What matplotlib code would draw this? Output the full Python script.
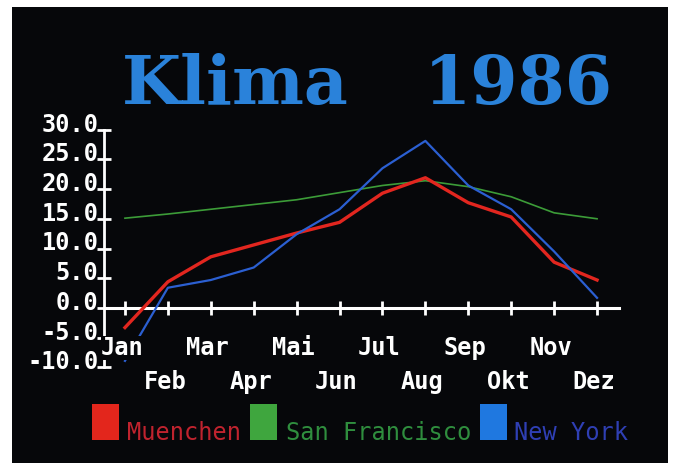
import numpy as np
import matplotlib
matplotlib.use("Agg")
import matplotlib.pyplot as plt
import matplotlib.transforms as mtransforms
from matplotlib.patches import Rectangle

# Monatsmittel der Temperatur 1986 (Grad C)
monate = ["Jan", "Feb", "Mar", "Apr", "Mai", "Jun", "Jul", "Aug", "Sep", "Okt", "Nov", "Dez"]
muenchen = [-3.3, 4.4, 8.6, 10.6, 12.6, 14.4, 19.3, 21.9, 17.7, 15.3, 7.7, 4.7]
san_francisco = [15.1, 15.8, 16.6, 17.4, 18.2, 19.4, 20.6, 21.4, 20.4, 18.7, 16.0, 15.0]
new_york = [-8.9, 3.4, 4.7, 6.8, 12.4, 16.6, 23.5, 28.1, 20.6, 16.6, 9.5, 1.7]
staedte = ["Muenchen", "San Francisco", "New York"]
y_ticks = [-10, -5, 0, 5, 10, 15, 20, 25, 30]

linien_farben = ["#e2261f", "#3c9c38", "#2b5fd2"]
kasten_farben = ["#e3261c", "#3fa63e", "#1f78e0"]
text_farben = ["#c0232e", "#2f8e3e", "#2f3fb4"]
titel_farbe = "#2a82da"
mono = "DejaVu Sans Mono"

W, H = 676, 472
fig = plt.figure(figsize=(W / 100, H / 100), dpi=100, facecolor="white")

# Bildschirm
fig.patches.append(Rectangle((12 / W, 1 - 463 / H), 656 / W, 456 / H,
                             transform=fig.transFigure, facecolor="#06070a",
                             edgecolor="none", zorder=-5))

# Titel
fig.text(122 / W, 1 - 104 / H, "Klima", color=titel_farbe, family="DejaVu Serif",
         weight="bold", fontsize=49, va="baseline", ha="left")
fig.text(613 / W, 1 - 104 / H, "1986", color=titel_farbe, family="DejaVu Serif",
         weight="bold", fontsize=49, va="baseline", ha="right")

ax = fig.add_axes([103.5 / W, 1 - 367.4 / H, 515 / W, 237.8 / H])
ax.set_facecolor("none")
ax.set_xlim(-0.5, 11.5)
ax.set_ylim(-10, 30)

x = np.arange(len(monate))
ax.plot(x, san_francisco, color=linien_farben[1], lw=1.2, zorder=3)
ax.plot(x, muenchen, color=linien_farben[0], lw=2.4, zorder=4)
ax.plot(x, new_york, color=linien_farben[2], lw=1.6, zorder=5)

for s in ["top", "right"]:
    ax.spines[s].set_visible(False)
ax.spines["left"].set_color("white")
ax.spines["left"].set_linewidth(2)
ax.spines["bottom"].set_color("white")
ax.spines["bottom"].set_linewidth(2.2)
ax.spines["bottom"].set_position(("data", 0))

ax.set_xticks(x)
ax.set_xticklabels([])
ax.set_yticks(y_ticks)
ax.set_yticklabels([])
ax.tick_params(axis="both", direction="inout", length=10, width=2, color="white")

# y-Beschriftung, sitzt auf dem Strich
off = mtransforms.ScaledTranslation(-5 / 100, -2 / 100, fig.dpi_scale_trans)
for v in y_ticks:
    ax.text(0, v, f"{v:.1f}", transform=ax.get_yaxis_transform() + off,
            ha="right", va="baseline", color="white", family=mono,
            weight="bold", fontsize=17)

# Monate abwechselnd in zwei Zeilen
moff = mtransforms.ScaledTranslation(-3 / 100, 0, fig.dpi_scale_trans)
for i, m in enumerate(monate):
    yy = 0.052 if i % 2 == 0 else -0.091
    ax.text(i, yy, m, transform=ax.get_xaxis_transform() + moff, ha="center",
            va="baseline", color="white", family=mono, weight="bold",
            fontsize=17, zorder=6,
            bbox=dict(facecolor="#06070a", edgecolor="none", pad=0))

# Legende
kasten_x = [92, 250, 480]
text_x = [127, 286, 514]
for k in range(3):
    fig.patches.append(Rectangle((kasten_x[k] / W, 1 - 440 / H), 27 / W, 36 / H,
                                 transform=fig.transFigure,
                                 facecolor=kasten_farben[k], edgecolor="none"))
    fig.text(text_x[k] / W, 1 - 440 / H, staedte[k], color=text_farben[k],
             family=mono, fontsize=17, va="baseline", ha="left")

fig.savefig("out.png", dpi=100, facecolor="white")
